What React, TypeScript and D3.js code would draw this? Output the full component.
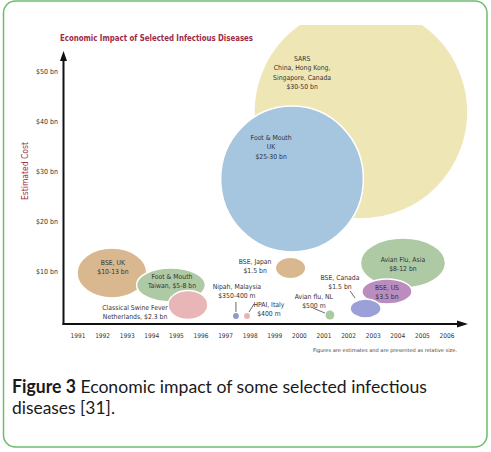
import React from "react";
import * as d3 from "d3";

const years = [1991, 1992, 1993, 1994, 1995, 1996, 1997, 1998, 1999, 2000, 2001, 2002, 2003, 2004, 2005, 2006];
const yTicks = [10, 20, 30, 40, 50];
const yTickLabels = ["$10 bn", "$20 bn", "$30 bn", "$40 bn", "$50 bn"];

const bubbleNames = ["SARS", "Foot & Mouth UK", "BSE UK", "Foot & Mouth Taiwan", "Classical Swine Fever", "Nipah", "HPAI Italy", "BSE Japan", "Avian flu NL", "Avian Flu Asia", "BSE US", "BSE Canada"];
const bubbleLabels = [
  ["SARS", "China, Hong Kong,", "Singapore, Canada", "$30-50 bn"],
  ["Foot & Mouth", "UK", "$25-30 bn"],
  ["BSE, UK", "$10-13 bn"],
  ["Foot & Mouth", "Taiwan, $5-8 bn"],
  ["Classical Swine Fever", "Netherlands, $2.3 bn"],
  ["Nipah, Malaysia", "$350-400 m"],
  ["HPAI, Italy", "$400 m"],
  ["BSE, Japan", "$1.5 bn"],
  ["Avian flu, NL", "$500 m"],
  ["Avian Flu, Asia", "$8-12 bn"],
  ["BSE, US", "$3.5 bn"],
  ["BSE, Canada", "$1.5 bn"],
];
// bubble centre (year, $bn) and half-extent (years, $bn)
const bubbleYear = [2002.5, 1999.7, 1992.38, 1994.78, 1995.47, 1997.42, 1997.87, 1999.64, 2001.24, 2004.21, 2003.56, 2002.69];
const bubbleCost = [41.8, 28.4, 9.6, 7.2, 3.2, 1.0, 1.0, 10.6, 1.2, 11.6, 5.9, 2.5];
const bubbleHalfYears = [4.35, 2.9, 1.42, 1.4, 0.81, 0.12, 0.12, 0.59, 0.18, 1.73, 1.02, 0.63];
const bubbleHalfCost = [21.4, 14.6, 5.0, 3.4, 2.9, 0.6, 0.6, 2.0, 0.9, 5.0, 2.5, 1.9];
const bubbleColors = ["#efe6b6", "#a6c6df", "#d9b88f", "#aecaa5", "#e8b6b7", "#8b9bd0", "#e8b3b4", "#d9b88f", "#a9cba0", "#aecaa5", "#bb8dbf", "#9ca0d8"];
// label anchor (year, $bn) of first line baseline
const labelYear = [2000.11, 1998.85, 1992.42, 1994.82, 1993.32, 1997.46, 1998.76, 1998.2, 2000.59, 2004.21, 2003.56, 2001.65];
const labelCost = [52.0, 36.2, 11.2, 8.4, 2.2, 6.4, 2.8, 11.4, 4.4, 11.8, 6.2, 8.2];
// leader lines, pixel offsets from bubble centre [x1,y1,x2,y2]
const leaders: (number[] | null)[] = [null, null, null, null, null, [0, -14, 0, -4], [7, -12, 2, -4], null, [-17, -7, -5, -2], null, null, [-15.5, -17.5, -10.5, -10.5]];

const W = 491;
const H = 452;

export default function App() {
  const x = d3.scaleLinear().domain([1991, 2006]).range([78, 447]);
  const y = d3.scaleLinear().domain([0, 50]).range([321, 71]);
  const labelFont = "'Liberation Sans Narrow', 'DejaVu Sans Condensed', sans-serif";
  const axisX0 = 63.5;
  const axisY0 = 324;

  return (
    <svg width={W} height={H} style={{ position: "absolute", left: 0, top: 0, background: "#fff" }}>
      <defs>
        <clipPath id="topclip">
          <rect x={0} y={25} width={W} height={H} />
        </clipPath>
      </defs>
      <rect x={3.5} y={1} width={483.5} height={446} rx={12} ry={12} fill="none" stroke="#6cbd6c" strokeWidth={1.5} />

      <text x={60} y={41} fontFamily={labelFont} fontWeight="bold" fontSize={9.5} fill="#9c2b47" textLength={193} lengthAdjust="spacingAndGlyphs">
        Economic Impact of Selected Infectious Diseases
      </text>

      <g clipPath="url(#topclip)">
        {bubbleNames.map((n, i) => (
          <ellipse
            key={n}
            cx={x(bubbleYear[i])}
            cy={y(bubbleCost[i])}
            rx={x(bubbleYear[i] + bubbleHalfYears[i]) - x(bubbleYear[i])}
            ry={y(0) - y(bubbleHalfCost[i])}
            fill={bubbleColors[i]}
            stroke="#ffffff"
            strokeWidth={i < 5 || i >= 9 ? 1.5 : 0}
          />
        ))}
      </g>

      {leaders.map((l, i) =>
        l ? (
          <line
            key={"ld" + i}
            x1={x(bubbleYear[i]) + l[0]}
            y1={y(bubbleCost[i]) + l[1]}
            x2={x(bubbleYear[i]) + l[2]}
            y2={y(bubbleCost[i]) + l[3]}
            stroke="#444"
            strokeWidth={0.8}
          />
        ) : null
      )}

      {bubbleLabels.map((lines, i) => (
        <text key={"lb" + i} x={x(labelYear[i])} y={y(labelCost[i])} textAnchor="middle" fontFamily={labelFont} fontSize={6.8} fill="#333">
          {lines.map((t, j) => (
            <tspan key={j} x={x(labelYear[i])} dy={j === 0 ? 0 : 9.3}>
              {t}
            </tspan>
          ))}
        </text>
      ))}

      {/* axes */}
      <line x1={axisX0} y1={60} x2={axisX0} y2={axisY0 + 1} stroke="#111" strokeWidth={2} />
      <path d={`M${axisX0},51 L${axisX0 - 3.5},61 L${axisX0 + 3.5},61 Z`} fill="#111" />
      <line x1={axisX0 - 1} y1={axisY0} x2={458} y2={axisY0} stroke="#111" strokeWidth={2} />
      <path d={`M468,${axisY0} L457,${axisY0 - 3.5} L457,${axisY0 + 3.5} Z`} fill="#111" />

      {yTicks.map((v, i) => (
        <text key={"yt" + v} x={58} y={y(v) + 2.5} textAnchor="end" fontFamily={labelFont} fontSize={7} fill="#333">
          {yTickLabels[i]}
        </text>
      ))}
      {years.map((yr) => (
        <text key={"xt" + yr} x={x(yr)} y={338} textAnchor="middle" fontFamily={labelFont} fontSize={6.5} fill="#333">
          {yr}
        </text>
      ))}

      <text transform="translate(28,171) rotate(-90)" textAnchor="middle" fontFamily={labelFont} fontSize={8.5} fill="#9c2b47">
        Estimated Cost
      </text>

      <text x={313} y={352} fontFamily={labelFont} fontSize={5} fill="#444" textLength={144} lengthAdjust="spacingAndGlyphs">
        Figures are estimates and are presented as relative size.
      </text>

      <text x={12} y={393} fontFamily="Lato, 'Open Sans', sans-serif" fontSize={18} fill="#1a1a1a" textLength={415} lengthAdjust="spacingAndGlyphs">
        <tspan fontWeight="bold">Figure 3</tspan> Economic impact of some selected infectious
      </text>
      <text x={12} y={414} fontFamily="Lato, 'Open Sans', sans-serif" fontSize={18} fill="#1a1a1a" textLength={103} lengthAdjust="spacingAndGlyphs">
        diseases [31].
      </text>
    </svg>
  );
}
